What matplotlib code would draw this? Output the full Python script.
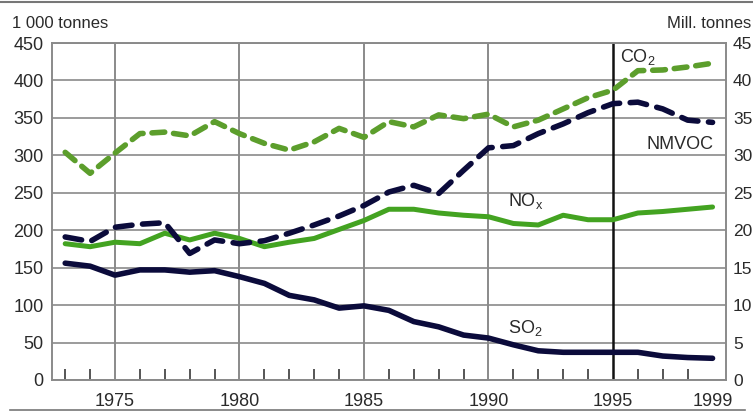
import matplotlib
matplotlib.use("Agg")
import matplotlib.pyplot as plt
from matplotlib.lines import Line2D

plt.rcParams['font.family'] = ['Liberation Sans', 'DejaVu Sans']
plt.rcParams['mathtext.fontset'] = 'custom'
plt.rcParams['mathtext.rm'] = 'Liberation Sans'
plt.rcParams['mathtext.it'] = 'Liberation Sans'

years = list(range(1973, 2000))
# 1 000 tonnes
so2 = [156, 152, 140, 147, 147, 144, 146, 138, 129, 113, 107, 96, 99, 93, 78, 71, 60,
       56, 47, 39, 37, 37, 37, 37, 32, 30, 29]
nox = [182, 178, 184, 182, 196, 187, 196, 189, 178, 184, 189, 201, 213, 228, 228, 223, 220,
       218, 209, 207, 220, 214, 214, 223, 225, 228, 231]
nmvoc = [191, 185, 204, 208, 210, 169, 187, 182, 186, 196, 207, 219, 233, 251, 260, 249, 280,
         310, 313, 329, 342, 357, 369, 371, 362, 347, 344]
# Mill. tonnes
co2 = [30.4, 27.6, 30.3, 32.9, 33.1, 32.6, 34.5, 32.9, 31.6, 30.7, 31.8, 33.6, 32.4, 34.5,
       33.8, 35.4, 34.9, 35.5, 33.8, 34.7, 36.2, 37.7, 38.7, 41.3, 41.4, 41.8, 42.3]

left_ticks = [0, 50, 100, 150, 200, 250, 300, 350, 400, 450]
right_ticks = [0, 5, 10, 15, 20, 25, 30, 35, 40, 45]
x_ticks = [1975, 1980, 1985, 1990, 1995, 1999]

navy = '#0b0b3b'
green_dash = '#5c9e2c'
green_solid = '#43a321'
grid_c = '#8a8a8a'
text_c = '#2a2a2a'

fig = plt.figure(figsize=(7.53, 4.12), dpi=100)
ax = fig.add_axes([52/753, 1-380/412, (726-52)/753, (380-43)/412])
ax.set_xlim(1972.47, 1999.54)
ax.set_ylim(0, 450)

for v in left_ticks:
    ax.axhline(v, color=grid_c, lw=1.2, zorder=1)
for xv in [1975, 1980, 1985, 1990]:
    ax.axvline(xv, color=grid_c, lw=1.4, zorder=1)
ax.axvline(1995, color='#111111', lw=1.8, zorder=1)

ax.plot(years, so2, color=navy, lw=4.0, solid_capstyle='round', solid_joinstyle='round', zorder=3)
ax.plot(years, nox, color=green_solid, lw=3.6, solid_capstyle='round', solid_joinstyle='round', zorder=3)
ax.plot(years, nmvoc, color=navy, lw=4.0, dashes=(3.0, 1.9), dash_capstyle='round',
        dash_joinstyle='round', zorder=4)

ax2 = ax.twinx()
ax2.set_ylim(0, 45)
ax2.plot(years, co2, color=green_dash, lw=4.0, dashes=(2.3, 1.6), dash_capstyle='round',
         dash_joinstyle='round', zorder=4)

for a in (ax, ax2):
    for s in a.spines.values():
        s.set_color(grid_c)
        s.set_linewidth(1.2)

ax.set_yticks(left_ticks)
ax.set_yticklabels([str(v) for v in left_ticks])
ax.tick_params(axis='y', length=0, pad=6, labelsize=13, labelcolor=text_c)
ax2.set_yticks(right_ticks)
ax2.set_yticklabels([str(v) for v in right_ticks])
ax2.tick_params(axis='y', length=0, pad=5, labelsize=12.5, labelcolor=text_c)

ax.set_xticks(x_ticks)
ax.set_xticklabels([str(v) for v in x_ticks])
ax.set_xticks(years, minor=True)
ax.tick_params(axis='x', which='major', direction='in', length=0, pad=9,
               labelsize=13, labelcolor=text_c)
ax.tick_params(axis='x', which='minor', direction='in', length=8, width=1.4, color='#555555')

ax.text(1995.3, 424, r'CO$_\mathrm{2}$', fontsize=13, color=text_c, ha='left', va='baseline', zorder=6)
ax.text(1999.05, 309, 'NMVOC', fontsize=13, color=text_c, ha='right', va='baseline', zorder=6)
ax.text(1990.8, 232, r'NO$_\mathrm{x}$', fontsize=13, color=text_c, ha='left', va='baseline', zorder=6)
ax.text(1990.8, 63, r'SO$_\mathrm{2}$', fontsize=13, color=text_c, ha='left', va='baseline', zorder=6)

fig.text(12/753, 1-28/412, '1 000 tonnes', fontsize=12, color=text_c, ha='left', va='baseline')
fig.text(751/753, 1-28/412, 'Mill. tonnes', fontsize=12, color=text_c, ha='right', va='baseline')

fig.add_artist(Line2D([0, 1], [1-1.5/412, 1-1.5/412], color='#777777', lw=1.5))
fig.add_artist(Line2D([10/753, 745/753], [1-410/412, 1-410/412], color='#777777', lw=1.2))

fig.savefig('out.png', dpi=100)
